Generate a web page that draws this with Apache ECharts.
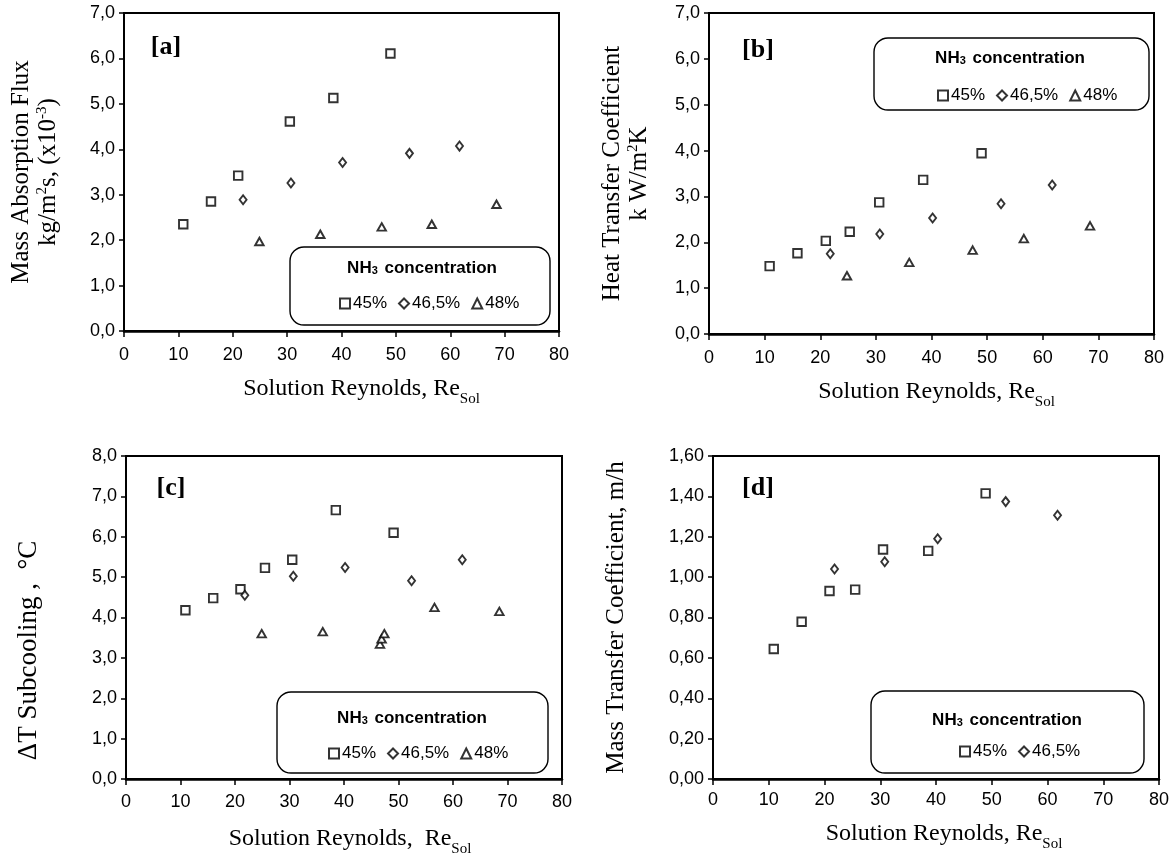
<!DOCTYPE html>
<html>
<head>
<meta charset="utf-8">
<script src="https://cdn.jsdelivr.net/npm/echarts@6/dist/echarts.min.js"></script>
<style>
html,body{margin:0;padding:0;background:#fff;}
#chart{width:1174px;height:859px;}
</style>
</head>
<body>
<div id="chart"></div>
<script>
// ---------- data ----------
const seriesNames = ['45%', '46,5%', '48%'];
const xTicks = [0, 10, 20, 30, 40, 50, 60, 70, 80];

// [a] Mass absorption flux
const a_re45 = [10.9, 16.0, 21.0, 30.5, 38.5, 49.0];
const a_flux45 = [2.35, 2.85, 3.42, 4.61, 5.13, 6.11];
const a_re465 = [21.9, 30.7, 40.2, 52.5, 61.7];
const a_flux465 = [2.89, 3.26, 3.71, 3.91, 4.07];
const a_re48 = [24.9, 36.1, 47.4, 56.6, 68.5];
const a_flux48 = [1.97, 2.13, 2.29, 2.35, 2.79];

// [b] Heat transfer coefficient
const b_re45 = [10.9, 15.9, 21.0, 25.3, 30.6, 38.5, 49.0];
const b_htc45 = [1.48, 1.76, 2.03, 2.23, 2.87, 3.36, 3.94];
const b_re465 = [21.8, 30.7, 40.2, 52.5, 61.7];
const b_htc465 = [1.75, 2.18, 2.53, 2.84, 3.25];
const b_re48 = [24.8, 36.0, 47.4, 56.6, 68.5];
const b_htc48 = [1.27, 1.56, 1.83, 2.08, 2.36];

// [c] Delta T subcooling
const c_re45 = [10.9, 16.0, 21.0, 25.5, 30.5, 38.5, 49.1];
const c_dt45 = [4.18, 4.48, 4.70, 5.23, 5.43, 6.66, 6.10];
const c_re465 = [21.8, 30.7, 40.2, 52.4, 61.7];
const c_dt465 = [4.55, 5.02, 5.24, 4.91, 5.43];
const c_re48 = [24.9, 36.1, 46.6, 46.9, 47.4, 56.6, 68.5];
const c_dt48 = [3.60, 3.65, 3.34, 3.47, 3.60, 4.25, 4.15];

// [d] Mass transfer coefficient
const d_re45 = [10.9, 15.9, 20.9, 25.5, 30.5, 38.6, 48.9];
const d_k45 = [0.644, 0.779, 0.931, 0.938, 1.137, 1.130, 1.415];
const d_re465 = [21.8, 30.8, 40.3, 52.5, 61.8];
const d_k465 = [1.040, 1.076, 1.190, 1.374, 1.307];

// ---------- styling ----------
const SANS = "'Liberation Sans', Arial, sans-serif";
const SERIF = "'Liberation Serif', 'Times New Roman', serif";
const grids = [
  {left: 124, top: 13, width: 435, height: 318},
  {left: 709, top: 13, width: 445, height: 321},
  {left: 126, top: 456, width: 436, height: 323},
  {left: 713, top: 456, width: 446, height: 323}
];
const yMax = [7, 7, 8, 1.6];
const yInt = [1, 1, 1, 0.2];
const yDec = [1, 1, 1, 2];
const yNames = [
  'Mass Absorption Flux\nkg/m{sup|2}s, (x10{sup|-3})',
  'Heat Transfer Coefficient\nk W/m{sup|2}K',
  '\u0394T Subcooling ,  \u00B0C',
  'Mass Transfer Coefficient, m/h'
];
const yGaps = [62, 56, 84, 83];
const yFont = [25, 25, 27, 25];
const xNames = [
  'Solution Reynolds, Re{sub|Sol}',
  'Solution Reynolds, Re{sub|Sol}',
  'Solution Reynolds,  Re{sub|Sol}',
  'Solution Reynolds, Re{sub|Sol}'
];
const xGaps = [40, 40, 42, 37];
const xShift = [40, 10, 12, 16];
const xLabelMargin = [15, 15, 14, 12];

const richSupSub = {
  sup: {fontSize: 15, lineHeight: 15, verticalAlign: 'top', fontFamily: SERIF, color: '#000'},
  sub: {fontSize: 15, lineHeight: 15, verticalAlign: 'bottom', fontFamily: SERIF, color: '#000'}
};

const xAxes = grids.map((g, i) => ({
  type: 'value', gridIndex: i, min: xTicks[0], max: xTicks[xTicks.length - 1], interval: 10,
  axisLine: {show: true, onZero: false, lineStyle: {color: '#000', width: 2.5}},
  axisTick: {show: true, inside: false, length: 6, lineStyle: {color: '#000', width: 1.5}},
  splitLine: {show: false},
  axisLabel: {fontSize: 18, color: '#000', fontFamily: SANS, margin: xLabelMargin[i]},
  name: xNames[i], nameLocation: 'middle', nameGap: xGaps[i],
  nameTextStyle: {fontSize: 24, fontFamily: SERIF, color: '#000', lineHeight: 36, rich: richSupSub,
    padding: [0, 0, 0, xShift[i]]}
}));

const yAxes = grids.map((g, i) => ({
  type: 'value', gridIndex: i, min: 0, max: yMax[i], interval: yInt[i],
  axisLine: {show: true, onZero: false, lineStyle: {color: '#000', width: 2}},
  axisTick: {show: true, inside: false, length: 5, lineStyle: {color: '#000', width: 1.5}},
  splitLine: {show: false},
  axisLabel: {fontSize: 18, color: '#000', fontFamily: SANS, margin: 9,
    formatter: v => v.toFixed(yDec[i]).replace('.', ',')},
  name: yNames[i], nameLocation: 'middle', nameGap: yGaps[i],
  nameTextStyle: {fontSize: yFont[i], fontFamily: SERIF, color: '#000', lineHeight: 27, rich: richSupSub,
    padding: i === 2 ? [0, 66, 0, 0] : 0}
}));

const markStyle = {color: '#fff', borderColor: '#000', borderWidth: 1.9};
const symbols = {
  '45%': {symbol: 'rect', size: 8.5},
  '46,5%': {symbol: 'diamond', size: [7, 9]},
  '48%': {symbol: 'triangle', size: [8.5, 7.5]}
};
function mk(name, xs, ys, gi) {
  return {
    type: 'scatter', name: name, xAxisIndex: gi, yAxisIndex: gi,
    symbol: symbols[name].symbol, symbolSize: symbols[name].size,
    itemStyle: markStyle, clip: false, silent: true,
    data: xs.map((x, k) => [x, ys[k]])
  };
}
const series = [
  mk('45%', a_re45, a_flux45, 0), mk('46,5%', a_re465, a_flux465, 0), mk('48%', a_re48, a_flux48, 0),
  mk('45%', b_re45, b_htc45, 1), mk('46,5%', b_re465, b_htc465, 1), mk('48%', b_re48, b_htc48, 1),
  mk('45%', c_re45, c_dt45, 2), mk('46,5%', c_re465, c_dt465, 2), mk('48%', c_re48, c_dt48, 2),
  mk('45%', d_re45, d_k45, 3), mk('46,5%', d_re465, d_k465, 3)
];

// legend boxes: [x, y, w, h], title centre, items position
const legendBoxes = [
  {box: [290, 247, 260, 78], tx: 422, ty: 268, lx: 334, ly: 290, names: seriesNames},
  {box: [874, 38, 275, 72], tx: 1010, ty: 58, lx: 932, ly: 82, names: seriesNames},
  {box: [277, 692, 271, 81], tx: 412, ty: 718, lx: 323, ly: 740, names: seriesNames},
  {box: [871, 691, 273, 82], tx: 1007, ty: 720, lx: 954, ly: 738, names: seriesNames.slice(0, 2)}
];
const panelLabels = [
  {t: '[a]', x: 166, y: 47}, {t: '[b]', x: 758, y: 50},
  {t: '[c]', x: 171, y: 488}, {t: '[d]', x: 758, y: 488}
];

const legends = legendBoxes.map(L => ({
  left: L.lx, top: L.ly, orient: 'horizontal', itemGap: 11, itemWidth: 10, itemHeight: 10,
  selectedMode: false,
  textStyle: {fontSize: 17, color: '#000', fontFamily: SANS, padding: [0, 0, 0, -2]},
  data: L.names.map(n => ({name: n, icon: symbols[n].symbol}))
}));

const graphics = [];
legendBoxes.forEach(L => {
  graphics.push({type: 'rect', z: 1, shape: {x: L.box[0], y: L.box[1], width: L.box[2], height: L.box[3], r: 14},
    style: {fill: '#fff', stroke: '#000', lineWidth: 1.4}});
  graphics.push({type: 'text', z: 2, x: L.tx, y: L.ty,
    style: {text: 'NH{s|3} concentration', fill: '#000', font: "bold 17px " + SANS,
      align: 'center', verticalAlign: 'middle',
      rich: {s: {fontSize: 11, fontWeight: 'bold', fontFamily: SANS, verticalAlign: 'bottom', lineHeight: 12, padding: [0, 2, 0, 0]}}}});
});
panelLabels.forEach(p => {
  graphics.push({type: 'text', z: 2, x: p.x, y: p.y,
    style: {text: p.t, fill: '#000', font: "bold 26px " + SERIF, align: 'center', verticalAlign: 'middle'}});
});

const chart = echarts.init(document.getElementById('chart'), null, {renderer: 'canvas'});
chart.setOption({
  backgroundColor: '#fff',
  animation: false,
  grid: grids.map(g => Object.assign({show: true, borderColor: '#000', borderWidth: 2, backgroundColor: 'transparent', containLabel: false}, g)),
  xAxis: xAxes,
  yAxis: yAxes,
  legend: legends,
  graphic: {elements: graphics},
  series: series
});
</script>
</body>
</html>
